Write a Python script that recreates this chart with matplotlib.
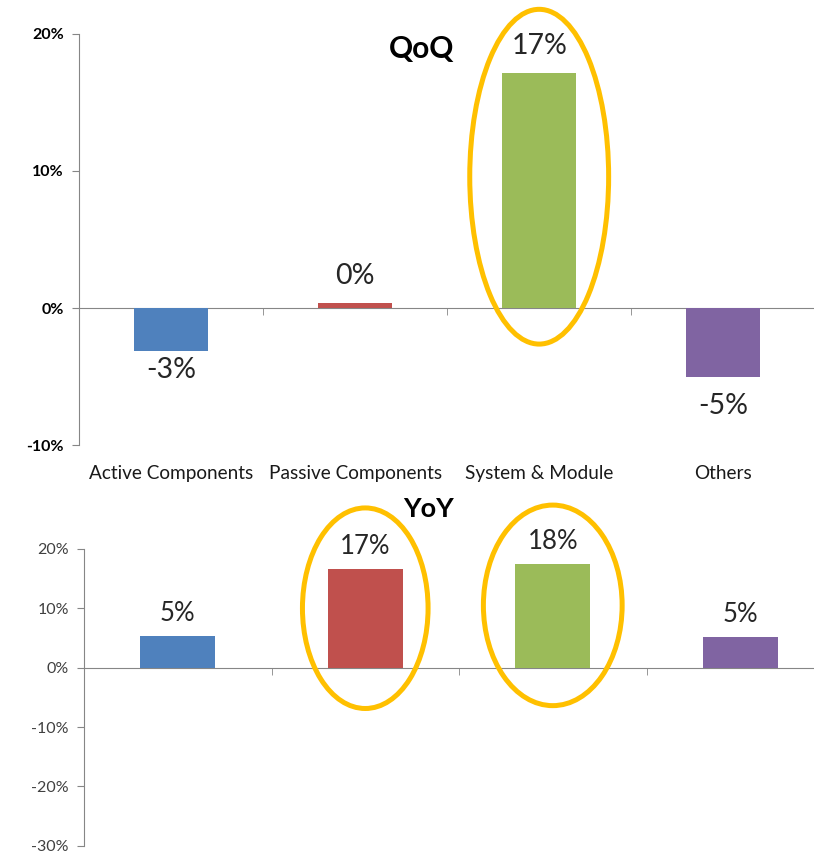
import matplotlib.pyplot as plt
from matplotlib.patches import Ellipse

plt.rcParams['font.family'] = ['Lato', 'DejaVu Sans']

categories = ['Active Components', 'Passive Components', 'System & Module', 'Others']
qoq = [-3.1, 0.4, 17.1, -5.0]
yoy = [5.3, 16.7, 17.5, 5.2]
qoq_labels = ['-3%', '0%', '17%', '-5%']
yoy_labels = ['5%', '17%', '18%', '5%']
qoq_highlight = [2]
yoy_highlight = [1, 2]

colors = ['#4F81BD', '#C0504D', '#9BBB59', '#8064A2']
axis_gray = '#868686'
ring = '#FFC000'

fig = plt.figure(figsize=(8.14, 8.55), dpi=100)
ax1 = fig.add_axes([0.0974, 0.4792, 0.904, 0.4814])
ax2 = fig.add_axes([0.1032, 0.0109, 0.9214, 0.347])


def style_axis(ax, ymin, ymax, label_color, weight):
    ax.set_xlim(-0.5, 3.5)
    ax.set_ylim(ymin, ymax)
    ax.set_yticks(range(ymin, ymax + 1, 10))
    ax.set_yticklabels([f'{t}%' for t in range(ymin, ymax + 1, 10)],
                       color=label_color, fontsize=11.5, fontweight=weight)
    ax.spines['top'].set_visible(False)
    ax.spines['right'].set_visible(False)
    ax.spines['left'].set_color(axis_gray)
    ax.spines['bottom'].set_color(axis_gray)
    ax.spines['bottom'].set_position(('data', 0))
    ax.tick_params(axis='y', colors=axis_gray, length=5, labelcolor=label_color, pad=6)
    ax.set_xticks([])
    ax.set_xticks([0.5, 1.5, 2.5, 3.5], minor=True)
    ax.tick_params(axis='x', which='minor', colors=axis_gray, length=5, direction='out')


def bar_labels(ax, bars, labels, gap_pos, gap_neg, size):
    for b, lab in zip(bars, labels):
        h = b.get_height()
        x = b.get_x() + b.get_width() / 2
        if h >= 0:
            ax.annotate(lab, (x, h), xytext=(0, gap_pos), textcoords='offset pixels',
                        ha='center', va='baseline', fontsize=size, color='#262626')
        else:
            ax.annotate(lab, (x, h), xytext=(0, -gap_neg), textcoords='offset pixels',
                        ha='center', va='top', fontsize=size, color='#262626')


def rings(ax, values, idx, w, h, frac):
    for i in idx:
        e = Ellipse((i, values[i] * frac), w[idx.index(i)], h, fill=False,
                    edgecolor=ring, linewidth=3.6, clip_on=False, zorder=5)
        ax.add_patch(e)


# QoQ panel
style_axis(ax1, -10, 20, 'black', 'bold')
b1 = ax1.bar(range(4), qoq, width=0.4, color=colors, zorder=3)
bar_labels(ax1, b1[:1], qoq_labels[:1], 19, 6, 20.5)
bar_labels(ax1, b1[1:], qoq_labels[1:], 19, 16, 20.5)
for i, cat in enumerate(categories):
    ax1.annotate(cat, (i, 0), xycoords=('data', 'axes fraction'), xytext=(0, -28),
                 textcoords='offset pixels', ha='center', va='center', fontsize=13.7,
                 color='#1a1a1a')
rings(ax1, qoq, qoq_highlight, [0.755], 24.4, 0.56)

# YoY panel
style_axis(ax2, -30, 20, '#404040', 'normal')
b2 = ax2.bar(range(4), yoy, width=0.4, color=colors, zorder=3)
bar_labels(ax2, b2, yoy_labels, 15, 15, 18.5)
rings(ax2, yoy, yoy_highlight, [0.67, 0.74], 33.8, 0.6)

fig.text(422 / 814, 1 - 49 / 855, 'QoQ', ha='center', va='center', fontsize=21.5, fontweight='bold')
fig.text(429 / 814, 1 - 509 / 855, 'YoY', ha='center', va='center', fontsize=19.5, fontweight='bold')

fig.savefig('out.png', dpi=100)
